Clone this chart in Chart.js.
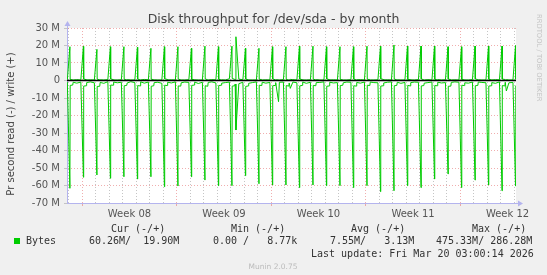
<!DOCTYPE html>
<html>
<head>
<meta charset="utf-8">
<script src="https://cdn.jsdelivr.net/npm/chart.js@4.4.1/dist/chart.umd.min.js"></script>
<style>
  html, body { margin: 0; padding: 0; background: #f0f0f0; }
  #wrap { position: relative; width: 547px; height: 275px; overflow: hidden; font-family: "DejaVu Sans", sans-serif; }
  #chart { position: absolute; left: 0; top: 0; }
  .t { position: absolute; white-space: pre; line-height: 1; }
  .mono { font-family: "DejaVu Sans Mono", monospace; font-size: 10px; color: #333; }
</style>
</head>
<body>
<div id="wrap">
  <canvas id="chart" width="547" height="275"></canvas>
  <div class="t" style="left:0;width:547px;top:13px;text-align:center;font-size:12.5px;color:#444;">Disk throughput for /dev/sda - by month</div>
  <div class="t" style="left:-89px;top:118px;width:200px;height:12px;line-height:12px;text-align:center;font-size:10px;color:#444;transform:rotate(-90deg);">Pr second read (-) / write (+)</div>
  <div class="t" style="left:535px;top:14px;font-size:6.8px;color:#c4c4c4;writing-mode:vertical-rl;">RRDTOOL / TOBI OETIKER</div>

  <div class="t mono" style="left:111px;top:224px;">Cur (-/+)</div>
  <div class="t mono" style="left:231px;top:224px;">Min (-/+)</div>
  <div class="t mono" style="left:351px;top:224px;">Avg (-/+)</div>
  <div class="t mono" style="left:472px;top:224px;">Max (-/+)</div>

  <div class="t" style="left:14px;top:238px;width:6px;height:6px;background:#00cc00;"></div>
  <div class="t mono" style="left:26px;top:236px;">Bytes</div>
  <div class="t mono" style="left:89px;top:236px;">60.26M/  19.90M</div>
  <div class="t mono" style="left:213px;top:236px;">0.00 /   8.77k</div>
  <div class="t mono" style="left:330px;top:236px;">7.55M/   3.13M</div>
  <div class="t mono" style="left:436px;top:236px;">475.33M/ 286.28M</div>

  <div class="t mono" style="left:311px;top:249px;">Last update: Fri Mar 20 03:00:14 2026</div>
  <div class="t" style="left:0;width:546px;top:263px;text-align:center;font-size:7.5px;color:#bbb;">Munin 2.0.75</div>
</div>

<script>
// time axis is in days, 0 = Monday Feb 16 00:00 (start of week 08)
const xMin = -1.125;
const xMax = 32.125;
const weekStarts = [0, 7, 14, 21, 28];
const weekLabels = ['Week 08', 'Week 09', 'Week 10', 'Week 11', 'Week 12'];

// one row per day, first row is Sun Feb 15 (day -1)
const firstDay = -1;
// the daily job peaks around 02:10
const peakTime = 0.09;
const baseTimes = [0.11, 0.3, 0.33, 0.6, 0.9];

// values in MB/s, read drawn negative
const writePeak = [19.3, 19.5, 17.8, 19.3, 19.3, 19.0, 18.4, 19.3, 19.3, 18.4, 19.6, 19.3,
  19.6, 18.4, 18.4, 19.3, 19.3, 19.6, 19.6, 19.3, 19.3, 19.3, 19.6, 19.6,
  20.3, 19.7, 19.7, 19.7, 19.3, 19.3, 19.7, 19.7, 19.7, 19.9];
const readPeak = [-61.6, -55.3, -54.0, -55.9, -55.0, -56.3, -55.0, -60.7, -60.3, -55.0, -56.9, -60.1,
  -60.1, -54.4, -59.0, -59.7, -59.7, -61.2, -59.7, -60.1, -60.1, -61.2, -60.1, -63.5,
  -63.0, -60.1, -61.2, -56.3, -53.4, -61.2, -56.9, -59.7, -63.0, -60.26];

const readBase = [
  [-2.8, -2.6, -1.0, -1.5, -0.9], [-3.2, -3.0, -1.2, -0.8, -1.3], [-3.4, -3.3, -1.1, -1.6, -0.7],
  [-2.6, -2.7, -0.9, -1.3, -1.0], [-3.0, -2.8, -1.4, -0.7, -1.2], [-2.9, -3.1, -0.8, -1.5, -0.9],
  [-3.3, -3.0, -1.2, -1.0, -1.6], [-2.7, -2.9, -1.0, -1.4, -0.8], [-3.1, -3.2, -1.3, -0.9, -1.1],
  [-2.8, -2.6, -0.9, -1.7, -1.0], [-3.0, -3.3, -1.1, -0.8, -1.4], [-2.9, -2.7, -1.5, -1.2, -0.9],
  [-3.2, -3.0, -2.0, -1.8, -1.0], [-3.4, -3.1, -1.6, -1.2, -0.8], [-2.7, -2.9, -1.0, -1.5, -1.1],
  [-3.0, -2.8, -1.2, -1.0, -0.9], [-2.9, -3.2, -1.4, -0.9, -1.3], [-3.1, -2.8, -0.9, -1.6, -1.0],
  [-2.8, -3.0, -1.2, -1.1, -0.8], [-3.3, -3.1, -1.0, -1.4, -1.2], [-2.9, -2.7, -1.3, -0.9, -1.0],
  [-3.0, -3.2, -1.1, -1.5, -0.9], [-2.7, -2.9, -0.9, -1.2, -1.3], [-3.2, -3.0, -1.4, -1.0, -0.8],
  [-3.0, -2.8, -1.0, -1.6, -1.1], [-2.8, -3.1, -1.2, -0.9, -1.0], [-3.1, -2.9, -1.5, -1.2, -0.9],
  [-2.9, -3.0, -1.0, -1.4, -1.2], [-3.3, -3.2, -1.1, -0.8, -1.0], [-2.7, -2.9, -1.3, -1.5, -0.9],
  [-3.0, -2.8, -0.9, -1.1, -1.3], [-3.2, -3.0, -1.2, -1.6, -0.8], [-2.9, -3.1, -1.0, -1.3, -1.1],
  [-3.0, -2.9, -1.1, -1.2, -1.0]
];
const writeBase = [
  [0.6, 0.4, 0.3, 0.5, 0.3], [0.8, 0.5, 0.3, 0.4, 0.3], [0.7, 0.4, 0.4, 0.3, 0.5],
  [0.9, 0.5, 0.3, 0.3, 0.4], [0.6, 0.4, 0.5, 0.3, 0.3], [0.8, 0.3, 0.3, 0.6, 0.4],
  [0.7, 0.5, 0.4, 0.3, 0.3], [1.0, 0.6, 0.3, 0.4, 0.3], [0.8, 0.4, 0.3, 0.3, 0.5],
  [0.6, 0.5, 0.4, 0.3, 0.3], [0.9, 0.4, 0.3, 0.5, 0.4], [0.7, 0.3, 0.4, 0.3, 1.0],
  [1.2, 0.6, 0.5, 0.8, 0.4], [0.8, 0.4, 0.3, 0.3, 0.3], [0.7, 0.5, 0.3, 0.4, 0.3],
  [0.9, 0.4, 0.4, 0.3, 0.5], [0.6, 0.3, 0.3, 0.5, 0.3], [0.8, 0.5, 0.3, 0.3, 0.4],
  [0.7, 0.4, 0.5, 0.3, 0.3], [0.9, 0.5, 0.3, 0.4, 0.3], [0.6, 0.4, 0.3, 0.3, 0.5],
  [0.8, 0.3, 0.4, 0.5, 0.3], [0.7, 0.5, 0.3, 0.3, 0.4], [1.0, 0.6, 0.3, 0.4, 0.3],
  [0.8, 0.4, 0.4, 0.3, 0.3], [0.6, 0.5, 0.3, 0.3, 0.5], [0.9, 0.4, 0.3, 0.5, 0.3],
  [0.7, 0.3, 0.5, 0.3, 0.4], [0.8, 0.5, 0.3, 0.4, 0.3], [0.6, 0.4, 0.3, 0.3, 0.5],
  [0.9, 0.5, 0.4, 0.3, 0.3], [0.7, 0.4, 0.3, 0.5, 0.4], [0.8, 0.6, 0.3, 0.3, 0.3],
  [0.7, 0.4, 0.3, 0.3, 0.3]
];

// odd samples outside the daily pattern (day number, read, write)
const extraTimes = [-1.1, 11.385, 14.54, 15.41, 31.41];
const extraRead = [-0.9, -28.3, -12.1, -4.5, -6.0];
const extraWrite = [0.4, 25.0, 0.4, 0.6, 0.5];

// build {x,y} series from the tables
const readPoints = [];
const writePoints = [];
readPeak.forEach((p, i) => {
  const d = firstDay + i;
  readPoints.push({ x: d + peakTime, y: p });
  writePoints.push({ x: d + peakTime, y: writePeak[i] });
  baseTimes.forEach((t, j) => {
    readPoints.push({ x: d + t, y: readBase[i][j] });
    writePoints.push({ x: d + t, y: writeBase[i][j] });
  });
});
extraTimes.forEach((t, i) => {
  readPoints.push({ x: t, y: extraRead[i] });
  writePoints.push({ x: t, y: extraWrite[i] });
});
readPoints.sort((a, b) => a.x - b.x);
writePoints.sort((a, b) => a.x - b.x);

// x ticks: a grid line every day, week labels in the middle of each week
const xTicks = [];
for (let d = Math.ceil(xMin); d <= Math.floor(xMax); d++) xTicks.push(d);
weekStarts.forEach(w => xTicks.push(w + 3.5));
xTicks.sort((a, b) => a - b);

const red = 'rgba(230, 120, 120, 0.6)';
const grey = 'rgba(150, 150, 150, 0.55)';
const axisColor = '#b4b4ee';

// white plot area, like rrdtool's canvas
const plotBg = {
  id: 'plotBg',
  beforeDraw(chart) {
    const { ctx, chartArea: a } = chart;
    ctx.save();
    ctx.fillStyle = '#ffffff';
    ctx.fillRect(a.left, a.top, a.right - a.left, a.bottom - a.top);
    ctx.restore();
  }
};

const zeroLine = {
  id: 'zeroLine',
  afterDatasetsDraw(chart) {
    const { ctx, chartArea, scales } = chart;
    const y = scales.y.getPixelForValue(0);
    ctx.save();
    ctx.strokeStyle = '#000';
    ctx.lineWidth = 1.4;
    ctx.beginPath();
    ctx.moveTo(chartArea.left, y);
    ctx.lineTo(chartArea.right, y);
    ctx.stroke();
    ctx.restore();
  }
};

const axisArrows = {
  id: 'axisArrows',
  afterDraw(chart) {
    const { ctx, chartArea: a } = chart;
    ctx.save();
    ctx.strokeStyle = axisColor;
    ctx.fillStyle = axisColor;
    ctx.lineWidth = 1;
    ctx.beginPath();
    ctx.moveTo(a.right, a.bottom + 0.5);
    ctx.lineTo(a.right + 3, a.bottom + 0.5);
    ctx.moveTo(a.left + 0.5, a.top);
    ctx.lineTo(a.left + 0.5, a.top - 2);
    ctx.stroke();
    ctx.beginPath();
    ctx.moveTo(a.right + 2, a.bottom - 2.5);
    ctx.lineTo(a.right + 7, a.bottom + 0.5);
    ctx.lineTo(a.right + 2, a.bottom + 3.5);
    ctx.closePath();
    ctx.fill();
    ctx.beginPath();
    ctx.moveTo(a.left - 2.5, a.top - 2);
    ctx.lineTo(a.left + 0.5, a.top - 7);
    ctx.lineTo(a.left + 3.5, a.top - 2);
    ctx.closePath();
    ctx.fill();
    ctx.restore();
  }
};

new Chart(document.getElementById('chart').getContext('2d'), {
  type: 'line',
  data: {
    datasets: [
      { label: 'read', data: readPoints, borderColor: '#00cc00', borderWidth: 1, pointRadius: 0, tension: 0, fill: false, borderJoinStyle: 'bevel' },
      { label: 'write', data: writePoints, borderColor: '#00cc00', borderWidth: 1, pointRadius: 0, tension: 0, fill: false, borderJoinStyle: 'bevel' }
    ]
  },
  plugins: [plotBg, zeroLine, axisArrows],
  options: {
    responsive: false,
    animation: false,
    events: [],
    layout: { padding: { left: 0, top: 28, right: 31, bottom: 50 } },
    plugins: { legend: { display: false }, tooltip: { enabled: false }, title: { display: false } },
    scales: {
      x: {
        type: 'linear',
        min: xMin,
        max: xMax,
        afterBuildTicks: s => { s.ticks = xTicks.map(v => ({ value: v })); },
        afterFit: s => { s.height = 22; },
        ticks: {
          autoSkip: false,
          maxRotation: 0,
          padding: 2,
          color: '#555',
          font: { family: 'DejaVu Sans', size: 10 },
          callback: v => {
            const i = weekStarts.indexOf(v - 3.5);
            return i >= 0 ? weekLabels[i] : '';
          }
        },
        grid: {
          lineWidth: 1,
          tickLength: 3,
          color: c => {
            const v = c.tick.value;
            if (weekStarts.includes(v)) return red;
            return Number.isInteger(v) ? grey : 'rgba(0,0,0,0)';
          },
          tickColor: c => weekStarts.includes(c.tick.value) ? red : 'rgba(0,0,0,0)'
        },
        border: { color: axisColor, width: 1, dash: [1, 2] }
      },
      y: {
        min: -70,
        max: 30,
        afterFit: s => { s.width = 67; },
        ticks: {
          stepSize: 5,
          padding: 4,
          color: '#555',
          font: { family: 'DejaVu Sans', size: 10 },
          callback: v => v % 10 === 0 ? (v === 0 ? '0' : v + ' M') : ''
        },
        grid: {
          lineWidth: 1,
          tickLength: 3,
          color: c => c.tick.value % 10 === 0 ? red : grey,
          tickColor: '#c4c4c4'
        },
        border: { color: axisColor, width: 1, dash: [1, 2] }
      }
    }
  }
});
</script>
</body>
</html>
